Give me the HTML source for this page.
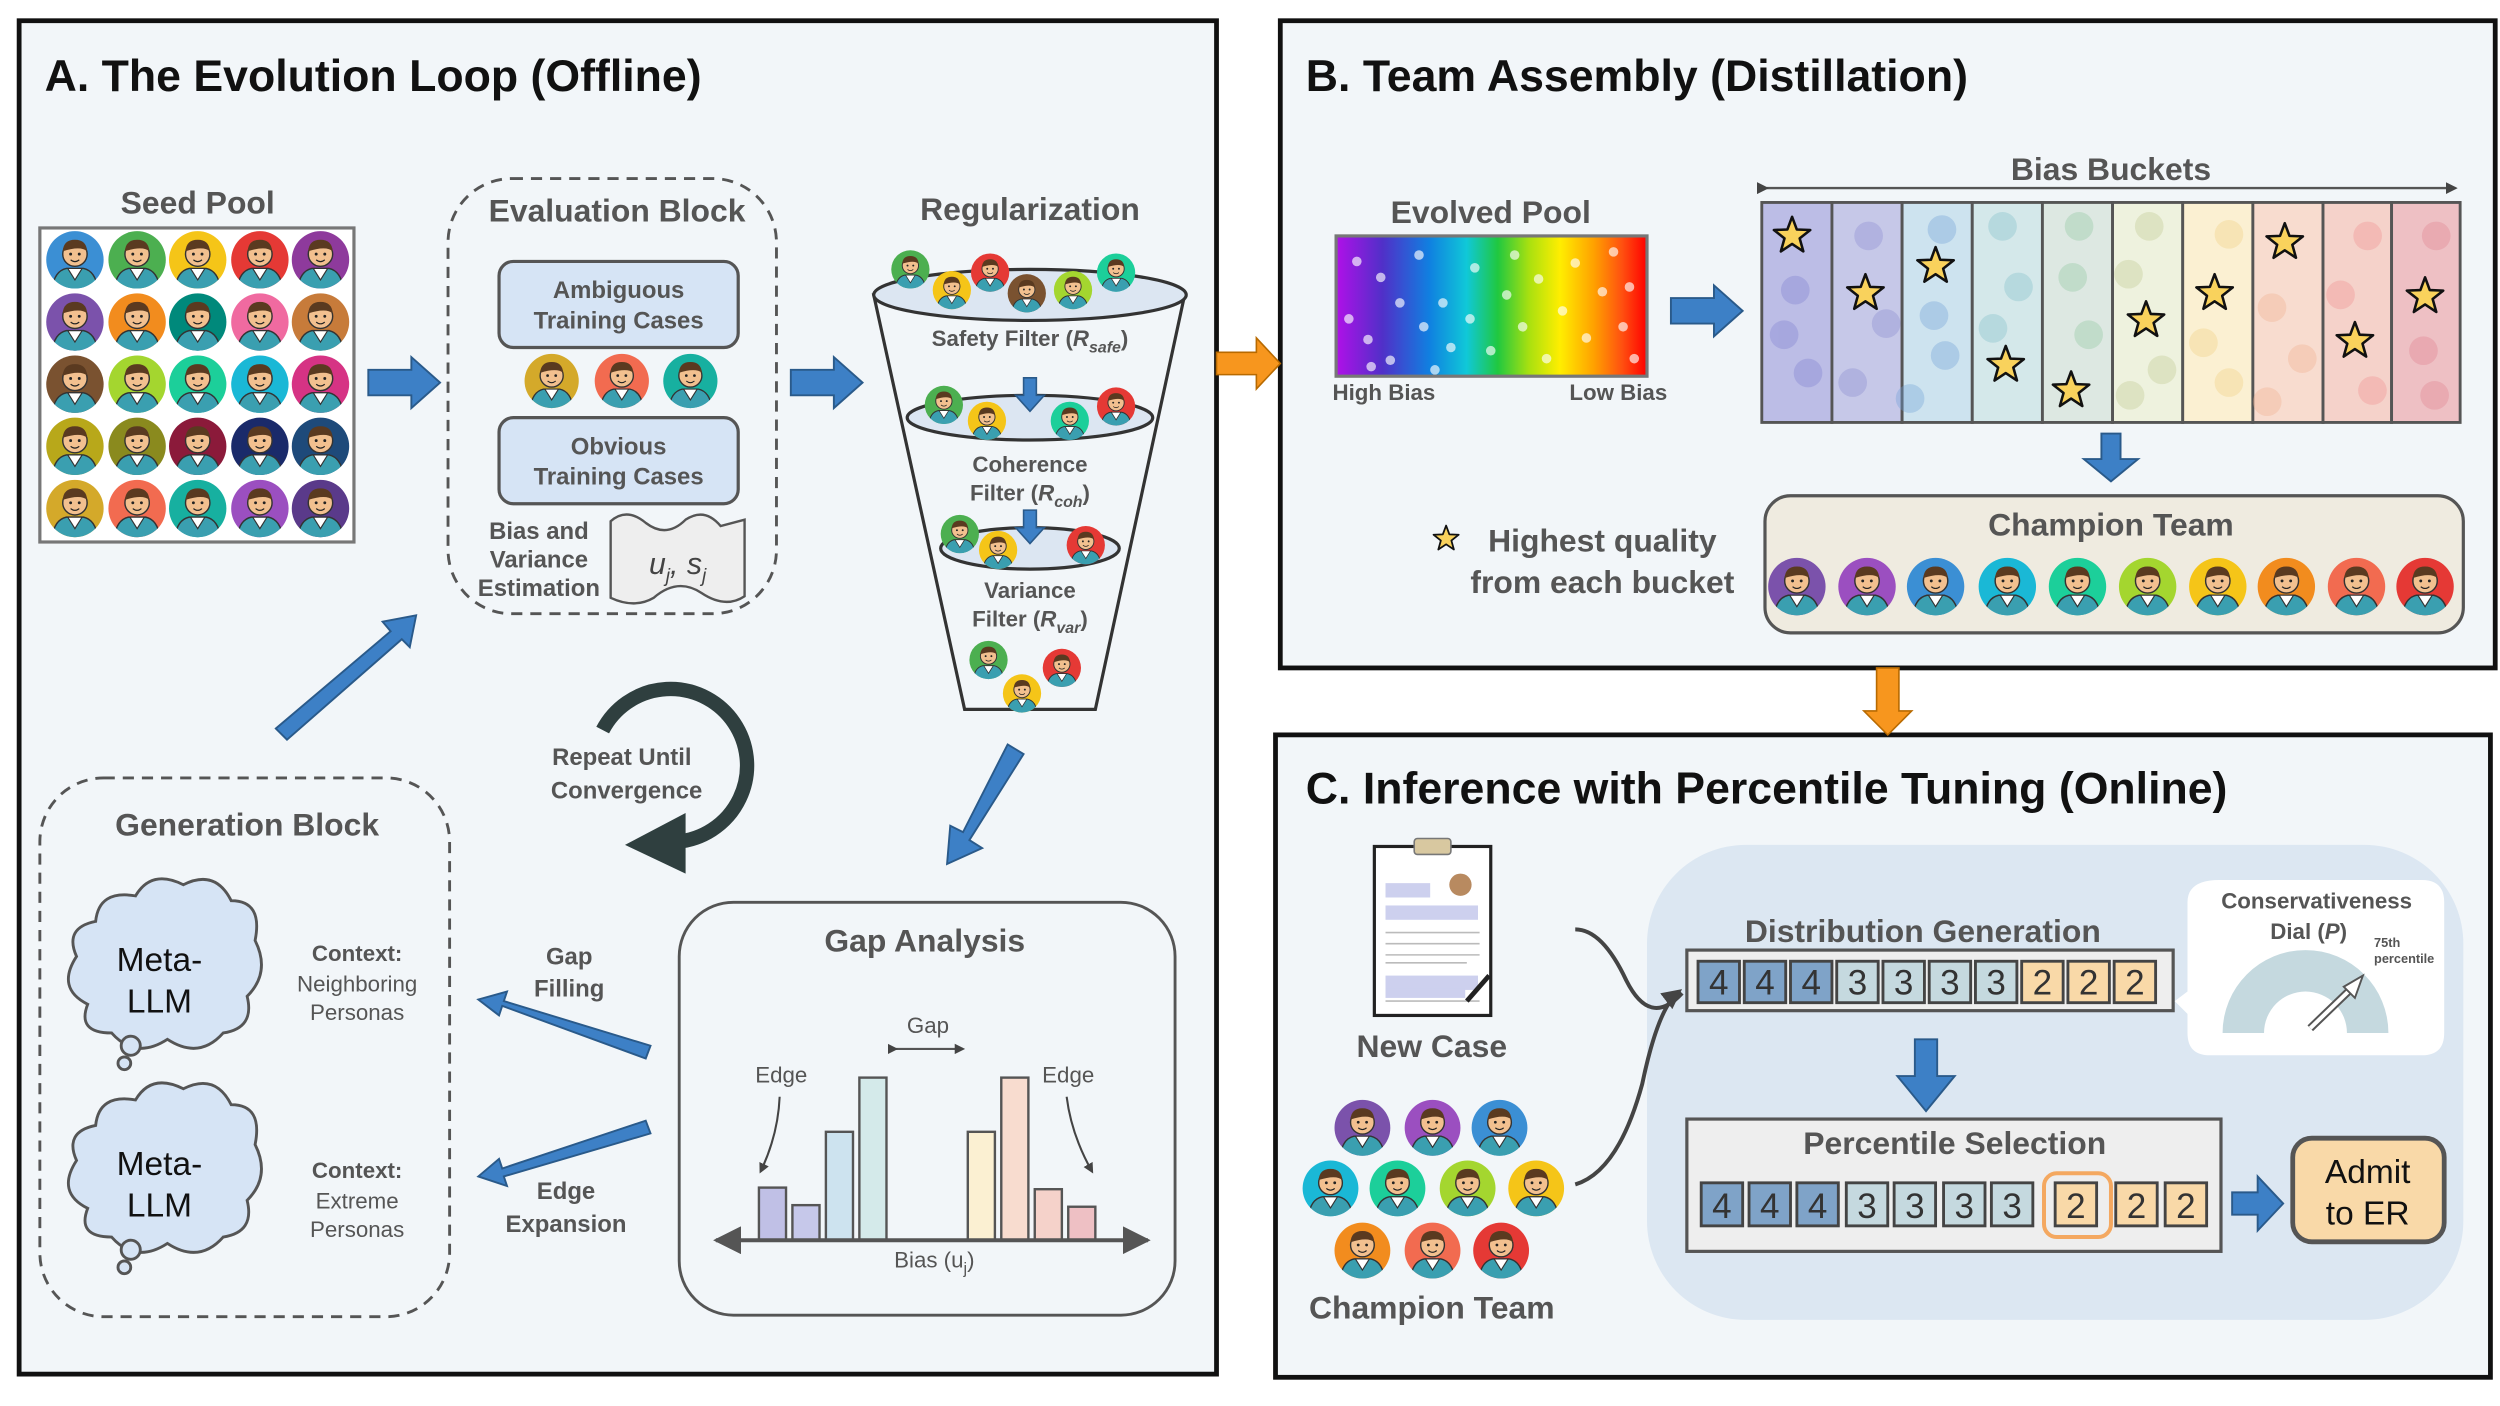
<!DOCTYPE html>
<html><head><meta charset="utf-8"><style>
html,body{margin:0;padding:0;background:#fff}
svg{display:block}
text{font-family:"Liberation Sans",sans-serif}
.t{font-size:28px;font-weight:bold;fill:#111}
.h{font-size:20px;font-weight:bold;fill:#555;text-anchor:middle}
.m{font-size:15px;font-weight:bold;fill:#555;text-anchor:middle}
.s{font-size:14px;fill:#555;text-anchor:middle}
.n{font-size:22px;fill:#333;text-anchor:middle}
</style></head><body>
<svg width="2500" height="1406" viewBox="0 0 1568 882" preserveAspectRatio="none" xmlns="http://www.w3.org/2000/svg">
<defs>
<symbol id="av" viewBox="-20 -20 40 40" overflow="visible">
<circle r="20"/>
<clipPath id="cc"><circle r="20"/></clipPath>
<g clip-path="url(#cc)">
<path d="M-16,22 Q-15,8 -6,6 L6,6 Q15,8 16,22 Z" fill="#3a9fb0" stroke="#333" stroke-width="1"/>
<path d="M-5,6 L0,14 L5,6 Z" fill="#fff" stroke="#333" stroke-width="0.8"/>
<circle cx="0" cy="-4" r="8.5" fill="#f2c08f" stroke="#333" stroke-width="1"/>
<path d="M-8.5,-6 Q-8,-14 0,-14 Q8,-14 8.5,-6 Q4,-10 -8.5,-6 Z" fill="#5a3a20"/>
<circle cx="-3" cy="-4" r="1" fill="#222"/><circle cx="3" cy="-4" r="1" fill="#222"/>
<path d="M-3,0 Q0,2.5 3,0" stroke="#222" fill="none" stroke-width="0.8"/>
</g>
</symbol>
<symbol id="st" viewBox="-13 -13 26 26" overflow="visible">
<polygon points="0,-12 2.94,-4.05 11.41,-3.71 4.76,1.55 7.05,9.71 0,5 -7.05,9.71 -4.76,1.55 -11.41,-3.71 -2.94,-4.05" fill="#f9d25c" stroke="#111" stroke-width="1.6" stroke-linejoin="round"/>
</symbol>
<symbol id="ba" viewBox="0 -17 46 34" overflow="visible">
<polygon points="0,-8 27,-8 27,-16 45,0 27,16 27,8 0,8" fill="#3d80c6" stroke="#2a5a8a" stroke-width="1.2"/>
</symbol>
<linearGradient id="rb" x1="0" x2="1" y1="0" y2="0">
<stop offset="0" stop-color="#b010e8"/><stop offset="0.15" stop-color="#5030c8"/><stop offset="0.3" stop-color="#1080e0"/><stop offset="0.42" stop-color="#10c8d8"/><stop offset="0.52" stop-color="#20c840"/><stop offset="0.62" stop-color="#a8e010"/><stop offset="0.72" stop-color="#ffee00"/><stop offset="0.83" stop-color="#ffa000"/><stop offset="0.92" stop-color="#ff5010"/><stop offset="1" stop-color="#ff0000"/>
</linearGradient>
<marker id="ah" viewBox="0 0 10 10" refX="9" refY="5" markerWidth="7" markerHeight="7" orient="auto-start-reverse"><path d="M0,0 L10,5 L0,10 Z" fill="#555"/></marker>
<marker id="ah2" viewBox="0 0 10 10" refX="8" refY="5" markerWidth="5" markerHeight="5" orient="auto"><path d="M0,0 L10,5 L0,10 Z" fill="#444"/></marker>
</defs>

<rect x="12" y="13" width="751" height="849" fill="#f2f6f9" stroke="#111" stroke-width="3"/>
<rect x="803" y="13" width="762" height="406" fill="#f2f6f9" stroke="#111" stroke-width="3"/>
<rect x="800" y="461" width="762" height="403" fill="#f2f6f9" stroke="#111" stroke-width="3"/>
<polygon points="763,221 788,221 788,212 803,228 788,244 788,235 763,235" fill="#f7961e" stroke="#b86a00" stroke-width="1"/>
<polygon points="1177,419 1191,419 1191,446 1199,446 1184,461 1169,446 1177,446" fill="#f7961e" stroke="#b86a00" stroke-width="1"/>

<text x="28" y="57" class="t">A. The Evolution Loop (Offline)</text>
<text x="819" y="57" class="t">B. Team Assembly (Distillation)</text>
<text x="819" y="504" class="t">C. Inference with Percentile Tuning (Online)</text>

<text x="124" y="134" class="h">Seed Pool</text>
<rect x="25" y="143" width="197" height="197" fill="#fff" stroke="#777" stroke-width="2"/>
<g>
<use href="#av" x="29" y="145" width="36" height="36" fill="#3b8fd4"/><use href="#av" x="68" y="145" width="36" height="36" fill="#4caf50"/><use href="#av" x="106" y="145" width="36" height="36" fill="#f5c518"/><use href="#av" x="145" y="145" width="36" height="36" fill="#e53935"/><use href="#av" x="183" y="145" width="36" height="36" fill="#8e3a9c"/>
<use href="#av" x="29" y="184" width="36" height="36" fill="#7b52ab"/><use href="#av" x="68" y="184" width="36" height="36" fill="#f28c1e"/><use href="#av" x="106" y="184" width="36" height="36" fill="#00897b"/><use href="#av" x="145" y="184" width="36" height="36" fill="#f06aa0"/><use href="#av" x="183" y="184" width="36" height="36" fill="#c77b3a"/>
<use href="#av" x="29" y="223" width="36" height="36" fill="#7a5230"/><use href="#av" x="68" y="223" width="36" height="36" fill="#a4d62f"/><use href="#av" x="106" y="223" width="36" height="36" fill="#1ccf9a"/><use href="#av" x="145" y="223" width="36" height="36" fill="#1ab8d6"/><use href="#av" x="183" y="223" width="36" height="36" fill="#d63384"/>
<use href="#av" x="29" y="262" width="36" height="36" fill="#b8a81a"/><use href="#av" x="68" y="262" width="36" height="36" fill="#8a8a1e"/><use href="#av" x="106" y="262" width="36" height="36" fill="#8b1a3a"/><use href="#av" x="145" y="262" width="36" height="36" fill="#1a2a6a"/><use href="#av" x="183" y="262" width="36" height="36" fill="#1e4a7a"/>
<use href="#av" x="29" y="301" width="36" height="36" fill="#d4a92a"/><use href="#av" x="68" y="301" width="36" height="36" fill="#f26b50"/><use href="#av" x="106" y="301" width="36" height="36" fill="#17b0a0"/><use href="#av" x="145" y="301" width="36" height="36" fill="#9b4fc0"/><use href="#av" x="183" y="301" width="36" height="36" fill="#5a3a8a"/>
</g>
<use href="#ba" x="231" y="223" width="46" height="34"/>

<rect x="281" y="112" width="206" height="273" rx="40" fill="none" stroke="#555" stroke-width="1.8" stroke-dasharray="7,5"/>
<text x="387" y="139" class="h">Evaluation Block</text>
<rect x="313" y="164" width="150" height="54" rx="9" fill="#d6e4f5" stroke="#555" stroke-width="2"/>
<text x="388" y="187" class="m">Ambiguous</text><text x="388" y="206" class="m">Training Cases</text>
<use href="#av" x="329" y="222" width="34" height="34" fill="#d4a92a"/><use href="#av" x="373" y="222" width="34" height="34" fill="#f26b50"/><use href="#av" x="416" y="222" width="34" height="34" fill="#17b0a0"/>
<rect x="313" y="262" width="150" height="54" rx="9" fill="#d6e4f5" stroke="#555" stroke-width="2"/>
<text x="388" y="285" class="m">Obvious</text><text x="388" y="304" class="m">Training Cases</text>
<text x="338" y="338" class="m">Bias and</text><text x="338" y="356" class="m">Variance</text><text x="338" y="374" class="m">Estimation</text>
<path d="M383,327 Q393,318 405,328 Q418,338 430,326 Q442,318 452,330 L467,326 L467,374 Q455,382 440,372 Q425,362 410,375 Q398,382 383,375 Z" fill="#eeeeee" stroke="#555" stroke-width="1.5"/>
<text x="425" y="360" font-size="19" font-style="italic" fill="#444" text-anchor="middle">u<tspan font-size="12" dy="5">j</tspan><tspan dy="-5">, s</tspan><tspan font-size="12" dy="5">j</tspan></text>
<use href="#ba" x="496" y="223" width="46" height="34"/>

<text x="646" y="138" class="h">Regularization</text>
<path d="M548,185 L605,445 L687,445 L743,185 Z" fill="#f2f6f9" stroke="#333" stroke-width="2"/>
<ellipse cx="646" cy="185" rx="98" ry="16" fill="#dce6f2" stroke="#333" stroke-width="2"/>
<ellipse cx="646" cy="262" rx="77" ry="14" fill="#dce6f2" stroke="#333" stroke-width="2"/>
<ellipse cx="646" cy="344" rx="56" ry="13" fill="#dce6f2" stroke="#333" stroke-width="2"/>
<use href="#av" x="559" y="157" width="24" height="24" fill="#4caf50"/><use href="#av" x="585" y="170" width="24" height="24" fill="#f5c518"/><use href="#av" x="609" y="159" width="24" height="24" fill="#e53935"/><use href="#av" x="632" y="172" width="24" height="24" fill="#7a5230"/><use href="#av" x="661" y="170" width="24" height="24" fill="#a4d62f"/><use href="#av" x="688" y="159" width="24" height="24" fill="#1ccf9a"/>
<text x="646" y="217" class="s" font-weight="bold">Safety Filter (<tspan font-style="italic">R</tspan><tspan font-size="10" dy="4" font-style="italic">safe</tspan><tspan dy="-4">)</tspan></text>
<polygon points="642,237 650,237 650,248 655,248 646,258 637,248 642,248" fill="#3d80c6" stroke="#2a5a8a"/>
<use href="#av" x="580" y="242" width="24" height="24" fill="#4caf50"/><use href="#av" x="607" y="252" width="24" height="24" fill="#f5c518"/><use href="#av" x="659" y="252" width="24" height="24" fill="#1ccf9a"/><use href="#av" x="688" y="243" width="24" height="24" fill="#e53935"/>
<text x="646" y="296" class="s" font-weight="bold">Coherence</text>
<text x="646" y="314" class="s" font-weight="bold">Filter (<tspan font-style="italic">R</tspan><tspan font-size="10" dy="4" font-style="italic">coh</tspan><tspan dy="-4">)</tspan></text>
<polygon points="642,320 650,320 650,331 655,331 646,341 637,331 642,331" fill="#3d80c6" stroke="#2a5a8a"/>
<use href="#av" x="590" y="323" width="24" height="24" fill="#4caf50"/><use href="#av" x="614" y="333" width="24" height="24" fill="#f5c518"/><use href="#av" x="669" y="330" width="24" height="24" fill="#e53935"/>
<text x="646" y="375" class="s" font-weight="bold">Variance</text>
<text x="646" y="393" class="s" font-weight="bold">Filter (<tspan font-style="italic">R</tspan><tspan font-size="10" dy="4" font-style="italic">var</tspan><tspan dy="-4">)</tspan></text>
<use href="#av" x="608" y="402" width="24" height="24" fill="#4caf50"/><use href="#av" x="654" y="407" width="24" height="24" fill="#e53935"/><use href="#av" x="629" y="423" width="24" height="24" fill="#f5c518"/>

<polygon points="632,467 642,473 608,527 616,532 594,542 596,518 604,522" fill="#3d80c6" stroke="#2a5a8a" stroke-width="1.2"/>
<polygon points="173,457 245,396 240,390 261,386 257,406 252,401 180,464" fill="#3d80c6" stroke="#2a5a8a" stroke-width="1.2"/>

<path d="M378,458 A48,48 0 1 1 425,528" fill="none" stroke="#2f3f3f" stroke-width="9"/>
<polygon points="430,510 430,548 392,530" fill="#2f3f3f"/>
<text x="390" y="480" class="m" font-size="16">Repeat Until</text>
<text x="393" y="501" class="m" font-size="16">Convergence</text>

<rect x="25" y="488" width="257" height="338" rx="40" fill="none" stroke="#555" stroke-width="1.8" stroke-dasharray="7,5"/>
<text x="155" y="524" class="h">Generation Block</text>
<g fill="#d6e4f5" stroke="#555" stroke-width="1.8">
<path d="M60,578 Q62,558 85,562 Q95,545 115,555 Q135,545 145,565 Q165,565 160,590 Q170,610 155,625 Q160,645 140,648 Q125,665 105,652 Q85,665 70,648 Q48,648 55,630 Q35,620 48,600 Q40,582 60,578 Z"/>
<circle cx="82" cy="656" r="6"/><circle cx="78" cy="667" r="4"/>
<path d="M60,706 Q62,686 85,690 Q95,673 115,683 Q135,673 145,693 Q165,693 160,718 Q170,738 155,753 Q160,773 140,776 Q125,793 105,780 Q85,793 70,776 Q48,776 55,758 Q35,748 48,728 Q40,710 60,706 Z"/>
<circle cx="82" cy="784" r="6"/><circle cx="78" cy="795" r="4"/>
</g>
<text x="100" y="609" font-size="21" fill="#111" text-anchor="middle">Meta-</text><text x="100" y="635" font-size="21" fill="#111" text-anchor="middle">LLM</text>
<text x="100" y="737" font-size="21" fill="#111" text-anchor="middle">Meta-</text><text x="100" y="763" font-size="21" fill="#111" text-anchor="middle">LLM</text>
<text x="224" y="603" class="s" font-weight="bold">Context:</text><text x="224" y="622" class="s">Neighboring</text><text x="224" y="640" class="s">Personas</text>
<text x="224" y="739" class="s" font-weight="bold">Context:</text><text x="224" y="758" class="s">Extreme</text><text x="224" y="776" class="s">Personas</text>
<polygon points="408,656 405,664 315,631 313,637 300,627 318,622 316,628" fill="#3d80c6" stroke="#2a5a8a" stroke-width="1.2"/>
<polygon points="405,703 408,711 316,738 318,744 300,738 313,727 315,733" fill="#3d80c6" stroke="#2a5a8a" stroke-width="1.2"/>
<text x="357" y="605" class="m" font-size="16">Gap</text><text x="357" y="625" class="m" font-size="16">Filling</text>
<text x="355" y="752" class="m" font-size="16">Edge</text><text x="355" y="773" class="m" font-size="16">Expansion</text>

<rect x="426" y="566" width="311" height="259" rx="34" fill="none" stroke="#555" stroke-width="1.8"/>
<text x="580" y="597" class="h">Gap Analysis</text>
<g stroke="#555" stroke-width="1.5">
<rect x="476" y="745" width="17" height="33" fill="#c0c0e6"/><rect x="497" y="756" width="17" height="22" fill="#c6c8ea"/>
<rect x="518" y="710" width="17" height="68" fill="#cde3ef"/><rect x="539" y="676" width="17" height="102" fill="#d4eaea"/>
<rect x="607" y="710" width="17" height="68" fill="#fbf0d2"/><rect x="628" y="676" width="17" height="102" fill="#f8dccf"/>
<rect x="649" y="746" width="17" height="32" fill="#f5d2ca"/><rect x="670" y="757" width="17" height="21" fill="#eec0c4"/>
</g>
<line x1="449" y1="778" x2="720" y2="778" stroke="#555" stroke-width="2.5" marker-start="url(#ah)" marker-end="url(#ah)"/>
<text x="586" y="795" class="s">Bias (u<tspan font-size="10" dy="4">j</tspan><tspan dy="-4">)</tspan></text>
<text x="582" y="648" class="s" font-size="16">Gap</text>
<line x1="562" y1="658" x2="604" y2="658" stroke="#555" stroke-width="1.3" marker-start="url(#ah2)" marker-end="url(#ah2)"/>
<text x="490" y="679" class="s" font-size="16">Edge</text><text x="670" y="679" class="s" font-size="16">Edge</text>
<path d="M489,688 Q488,712 477,735" fill="none" stroke="#444" stroke-width="1.3" marker-end="url(#ah2)"/>
<path d="M669,688 Q672,712 685,735" fill="none" stroke="#444" stroke-width="1.3" marker-end="url(#ah2)"/>

<text x="935" y="140" class="h">Evolved Pool</text>
<rect x="838" y="148" width="195" height="88" fill="url(#rb)" stroke="#777" stroke-width="2"/>
<g fill="#fff" opacity="0.65">
<circle cx="851" cy="164" r="3"/><circle cx="866" cy="174" r="3"/><circle cx="878" cy="190" r="3"/><circle cx="846" cy="200" r="3"/><circle cx="858" cy="213" r="3"/><circle cx="872" cy="226" r="3"/><circle cx="890" cy="160" r="3"/><circle cx="893" cy="205" r="3"/><circle cx="905" cy="190" r="3"/><circle cx="910" cy="218" r="3"/><circle cx="925" cy="168" r="3"/><circle cx="922" cy="200" r="3"/><circle cx="935" cy="220" r="3"/><circle cx="945" cy="185" r="3"/><circle cx="950" cy="160" r="3"/><circle cx="955" cy="205" r="3"/><circle cx="965" cy="175" r="3"/><circle cx="970" cy="225" r="3"/><circle cx="980" cy="195" r="3"/><circle cx="988" cy="165" r="3"/><circle cx="995" cy="212" r="3"/><circle cx="1005" cy="183" r="3"/><circle cx="1012" cy="158" r="3"/><circle cx="1018" cy="205" r="3"/><circle cx="1025" cy="225" r="3"/><circle cx="1022" cy="180" r="3"/><circle cx="860" cy="230" r="3"/><circle cx="900" cy="232" r="3"/>
</g>
<text x="868" y="251" class="s" font-weight="bold">High Bias</text><text x="1015" y="251" class="s" font-weight="bold">Low Bias</text>
<use href="#ba" x="1048" y="178" width="46" height="34"/>
<text x="1324" y="113" class="h">Bias Buckets</text>
<line x1="1108" y1="118" x2="1540" y2="118" stroke="#555" stroke-width="1.5" marker-start="url(#ah2)" marker-end="url(#ah2)"/>
<g stroke="#555" stroke-width="1.8">
<rect x="1105" y="127" width="44" height="138" fill="#bcbde6"/><rect x="1149" y="127" width="44" height="138" fill="#c6c8e8"/><rect x="1193" y="127" width="44" height="138" fill="#cde3ef"/><rect x="1237" y="127" width="44" height="138" fill="#d4e8ea"/><rect x="1281" y="127" width="44" height="138" fill="#dde8e2"/><rect x="1325" y="127" width="44" height="138" fill="#eef2de"/><rect x="1369" y="127" width="44" height="138" fill="#fbf0d2"/><rect x="1413" y="127" width="44" height="138" fill="#f8dccf"/><rect x="1457" y="127" width="43" height="138" fill="#f5d2ca"/><rect x="1500" y="127" width="43" height="138" fill="#eec0c4"/>
</g>
<g opacity="0.35">
<circle cx="1126" cy="182" r="9" fill="#8080d0"/><circle cx="1119" cy="210" r="9" fill="#8080d0"/><circle cx="1134" cy="234" r="9" fill="#8080d0"/>
<circle cx="1172" cy="148" r="9" fill="#8a8ad0"/><circle cx="1183" cy="203" r="9" fill="#8a8ad0"/><circle cx="1162" cy="240" r="9" fill="#8a8ad0"/>
<circle cx="1218" cy="144" r="9" fill="#70a0d8"/><circle cx="1213" cy="198" r="9" fill="#70a0d8"/><circle cx="1220" cy="223" r="9" fill="#70a0d8"/><circle cx="1198" cy="250" r="9" fill="#70a0d8"/>
<circle cx="1256" cy="142" r="9" fill="#80c0c8"/><circle cx="1266" cy="180" r="9" fill="#80c0c8"/><circle cx="1250" cy="206" r="9" fill="#80c0c8"/>
<circle cx="1304" cy="142" r="9" fill="#90c8a0"/><circle cx="1300" cy="174" r="9" fill="#90c8a0"/><circle cx="1310" cy="210" r="9" fill="#90c8a0"/>
<circle cx="1348" cy="142" r="9" fill="#c0c890"/><circle cx="1335" cy="172" r="9" fill="#c0c890"/><circle cx="1356" cy="232" r="9" fill="#c0c890"/><circle cx="1336" cy="248" r="9" fill="#c0c890"/>
<circle cx="1398" cy="147" r="9" fill="#f0d080"/><circle cx="1382" cy="215" r="9" fill="#f0d080"/><circle cx="1398" cy="240" r="9" fill="#f0d080"/>
<circle cx="1425" cy="193" r="9" fill="#f0b090"/><circle cx="1444" cy="225" r="9" fill="#f0b090"/><circle cx="1422" cy="252" r="9" fill="#f0b090"/>
<circle cx="1485" cy="148" r="9" fill="#f09090"/><circle cx="1468" cy="185" r="9" fill="#f09090"/><circle cx="1488" cy="245" r="9" fill="#f09090"/>
<circle cx="1528" cy="148" r="9" fill="#e08090"/><circle cx="1520" cy="220" r="9" fill="#e08090"/><circle cx="1527" cy="248" r="9" fill="#e08090"/>
</g>
<use href="#st" x="1111" y="135" width="26" height="26"/><use href="#st" x="1157" y="171" width="26" height="26"/><use href="#st" x="1201" y="154" width="26" height="26"/><use href="#st" x="1245" y="216" width="26" height="26"/><use href="#st" x="1286" y="232" width="26" height="26"/><use href="#st" x="1333" y="188" width="26" height="26"/><use href="#st" x="1376" y="171" width="26" height="26"/><use href="#st" x="1420" y="139" width="26" height="26"/><use href="#st" x="1464" y="201" width="26" height="26"/><use href="#st" x="1508" y="173" width="26" height="26"/>
<polygon points="1318,272 1330,272 1330,288 1341,288 1324,302 1307,288 1318,288" fill="#3d80c6" stroke="#2a5a8a" stroke-width="1.2"/>
<rect x="1107" y="311" width="438" height="86" rx="16" fill="#efebe0" stroke="#555" stroke-width="2"/>
<text x="1324" y="336" class="h">Champion Team</text>
<use href="#av" x="1109" y="350" width="36" height="36" fill="#7b52ab"/><use href="#av" x="1153" y="350" width="36" height="36" fill="#9b4fc0"/><use href="#av" x="1196" y="350" width="36" height="36" fill="#3b8fd4"/><use href="#av" x="1241" y="350" width="36" height="36" fill="#1ab8d6"/><use href="#av" x="1285" y="350" width="36" height="36" fill="#1ccf9a"/><use href="#av" x="1329" y="350" width="36" height="36" fill="#a4d62f"/><use href="#av" x="1373" y="350" width="36" height="36" fill="#f5c518"/><use href="#av" x="1416" y="350" width="36" height="36" fill="#f28c1e"/><use href="#av" x="1460" y="350" width="36" height="36" fill="#f26b50"/><use href="#av" x="1503" y="350" width="36" height="36" fill="#e53935"/>
<use href="#st" x="898" y="329" width="18" height="18"/>
<text x="1005" y="346" class="h">Highest quality</text>
<text x="1005" y="372" class="h">from each bucket</text>

<rect x="862" y="531" width="73" height="106" fill="#fff" stroke="#222" stroke-width="2"/>
<rect x="887" y="526" width="23" height="10" rx="2" fill="#d8c8a0" stroke="#777"/>
<g fill="#cdd0ee"><rect x="869" y="554" width="28" height="9"/><rect x="869" y="568" width="58" height="9"/><rect x="869" y="612" width="58" height="9"/></g>
<circle cx="916" cy="555" r="7" fill="#b88a60"/>
<g stroke="#bbb" stroke-width="1"><line x1="869" y1="585" x2="928" y2="585"/><line x1="869" y1="592" x2="928" y2="592"/><line x1="869" y1="599" x2="928" y2="599"/><line x1="869" y1="604" x2="920" y2="604"/><line x1="869" y1="628" x2="928" y2="628"/></g>
<rect x="869" y="620" width="50" height="6" fill="#cdd0ee"/>
<line x1="920" y1="628" x2="934" y2="612" stroke="#222" stroke-width="3"/>
<text x="898" y="663" class="h" font-size="19">New Case</text>
<use href="#av" x="837" y="690" width="35" height="35" fill="#7b52ab"/><use href="#av" x="881" y="690" width="35" height="35" fill="#9b4fc0"/><use href="#av" x="923" y="690" width="35" height="35" fill="#3b8fd4"/>
<use href="#av" x="817" y="728" width="35" height="35" fill="#1ab8d6"/><use href="#av" x="859" y="728" width="35" height="35" fill="#1ccf9a"/><use href="#av" x="903" y="728" width="35" height="35" fill="#a4d62f"/><use href="#av" x="946" y="728" width="35" height="35" fill="#f5c518"/>
<use href="#av" x="837" y="767" width="35" height="35" fill="#f28c1e"/><use href="#av" x="881" y="767" width="35" height="35" fill="#f26b50"/><use href="#av" x="924" y="767" width="35" height="35" fill="#e53935"/>
<text x="898" y="827" class="h" font-size="19">Champion Team</text>

<rect x="1033" y="530" width="512" height="298" rx="62" fill="#dce7f2"/>
<path d="M988,583 Q1005,583 1020,615 Q1035,645 1055,623" fill="none" stroke="#444" stroke-width="2.5"/>
<path d="M988,743 Q1015,735 1030,680 Q1040,632 1053,622" fill="none" stroke="#444" stroke-width="2.5" marker-end="url(#ah2)"/>

<text x="1206" y="591" class="h" font-size="19">Distribution Generation</text>
<rect x="1058" y="596" width="305" height="38" fill="#eeeeee" stroke="#555" stroke-width="2"/>
<g stroke="#444" stroke-width="1.8">
<rect x="1065" y="603" width="26" height="26" fill="#7fa3c8"/><rect x="1094" y="603" width="26" height="26" fill="#7fa3c8"/><rect x="1123" y="603" width="26" height="26" fill="#7fa3c8"/>
<rect x="1152" y="603" width="26" height="26" fill="#c5d9df"/><rect x="1181" y="603" width="26" height="26" fill="#c5d9df"/><rect x="1210" y="603" width="26" height="26" fill="#c5d9df"/><rect x="1239" y="603" width="26" height="26" fill="#c5d9df"/>
<rect x="1268" y="603" width="26" height="26" fill="#f9d9a8"/><rect x="1297" y="603" width="26" height="26" fill="#f9d9a8"/><rect x="1326" y="603" width="26" height="26" fill="#f9d9a8"/>
</g>
<text x="1078" y="624" class="n">4</text><text x="1107" y="624" class="n">4</text><text x="1136" y="624" class="n">4</text><text x="1165" y="624" class="n">3</text><text x="1194" y="624" class="n">3</text><text x="1223" y="624" class="n">3</text><text x="1252" y="624" class="n">3</text><text x="1281" y="624" class="n">2</text><text x="1310" y="624" class="n">2</text><text x="1339" y="624" class="n">2</text>

<path d="M1392,552 H1519 Q1533,552 1533,566 V648 Q1533,662 1519,662 H1386 Q1372,662 1372,648 V636 L1364,628 L1372,622 V566 Q1372,552 1392,552 Z" fill="#fff"/>
<text x="1453" y="570" class="s" font-weight="bold" font-size="15">Conservativeness</text>
<text x="1448" y="589" class="s" font-weight="bold" font-size="15">Dial (<tspan font-style="italic">P</tspan>)</text>
<text x="1489" y="594" font-size="8" font-weight="bold" fill="#555">75th</text>
<text x="1489" y="604" font-size="8" font-weight="bold" fill="#555">percentile</text>
<path d="M1394,648 A52,52 0 0 1 1498,648 L1472,648 A26,26 0 0 0 1420,648 Z" fill="#c5d9df"/>
<line x1="1449" y1="645" x2="1476" y2="619" stroke="#555" stroke-width="5"/>
<line x1="1449" y1="645" x2="1476" y2="619" stroke="#fff" stroke-width="2.5"/>
<polygon points="1482,612 1470,619 1477,626" fill="#fff" stroke="#555" stroke-width="1.2"/>

<polygon points="1201,652 1215,652 1215,675 1226,675 1208,697 1190,675 1201,675" fill="#3d80c6" stroke="#2a5a8a" stroke-width="1.2"/>
<rect x="1058" y="702" width="335" height="83" fill="#eeeeee" stroke="#555" stroke-width="2"/>
<text x="1226" y="724" class="h" font-size="19">Percentile Selection</text>
<rect x="1282" y="736" width="42" height="40" rx="8" fill="none" stroke="#f4a860" stroke-width="2.5"/>
<g stroke="#444" stroke-width="1.8">
<rect x="1067" y="742" width="26" height="27" fill="#7fa3c8"/><rect x="1097" y="742" width="26" height="27" fill="#7fa3c8"/><rect x="1127" y="742" width="26" height="27" fill="#7fa3c8"/>
<rect x="1158" y="742" width="26" height="27" fill="#c5d9df"/><rect x="1188" y="742" width="26" height="27" fill="#c5d9df"/><rect x="1219" y="742" width="26" height="27" fill="#c5d9df"/><rect x="1249" y="742" width="26" height="27" fill="#c5d9df"/>
<rect x="1289" y="742" width="26" height="27" fill="#f9d9a8"/><rect x="1327" y="742" width="26" height="27" fill="#f9d9a8"/><rect x="1358" y="742" width="26" height="27" fill="#f9d9a8"/>
</g>
<text x="1080" y="764" class="n">4</text><text x="1110" y="764" class="n">4</text><text x="1140" y="764" class="n">4</text><text x="1171" y="764" class="n">3</text><text x="1201" y="764" class="n">3</text><text x="1232" y="764" class="n">3</text><text x="1262" y="764" class="n">3</text><text x="1302" y="764" class="n">2</text><text x="1340" y="764" class="n">2</text><text x="1371" y="764" class="n">2</text>
<polygon points="1400,748 1416,748 1416,738 1432,755 1416,772 1416,762 1400,762" fill="#3d80c6" stroke="#2a5a8a" stroke-width="1.2"/>
<rect x="1438" y="714" width="95" height="65" rx="12" fill="#f9d9a8" stroke="#555" stroke-width="3"/>
<text x="1485" y="742" font-size="21" fill="#111" text-anchor="middle">Admit</text>
<text x="1485" y="768" font-size="21" fill="#111" text-anchor="middle">to ER</text>
</svg>
</body></html>
